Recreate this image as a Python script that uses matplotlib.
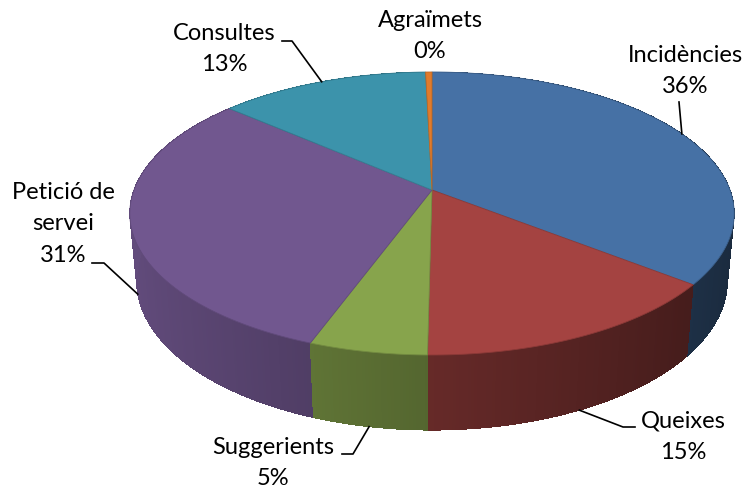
import numpy as np
import matplotlib.pyplot as plt
from matplotlib.patches import Polygon
from matplotlib.colors import to_rgb

labels = ['Incidències', 'Queixes', 'Suggerients', 'Petició de\nservei', 'Consultes', 'Agraïmets']
values = [35.6, 14.6, 5.4, 30.8, 13.2, 0.4]
colors = ['#4671a5', '#a44341', '#87a44c', '#71578f', '#3c93ab', '#e07b2c']

# label centres (px) and the bend points of each leader line
label_pos = [(685, 71), (683, 437), (273, 463), (63, 224), (224, 49), (430, 36)]
leader_pts = [[(679, 102)], [(623, 427), (635, 427)], [(353, 454), (342, 454)],
              [(104, 263), (92, 263)], [(292, 41), (282, 41)], []]

# perspective of the tilted disc
CX, CY = 432, 190
SCALE = 298
TILT = np.radians(27.5)
DIST = 5.34
HEIGHT = 0.257


def project(theta, r=1.0, h=0.0):
    x = r * np.sin(theta)
    z = r * np.cos(theta)
    v = z * np.sin(TILT) + h * np.cos(TILT)
    w = z * np.cos(TILT) - h * np.sin(TILT)
    s = 1.0 / (1.0 + w / DIST)
    return CX + SCALE * x * s, CY - SCALE * v * s


def shade(color, theta):
    # lighter on the left, darker towards the right side
    f = 0.62 - 0.25 * np.sin(theta)
    return tuple(np.clip(np.array(to_rgb(color)) * f, 0, 1))


plt.rcParams['font.family'] = ['Lato', 'DejaVu Sans']
fig = plt.figure(figsize=(7.49, 4.91), dpi=100)
ax = fig.add_axes([0, 0, 1, 1])
ax.set_xlim(0, 749)
ax.set_ylim(491, 0)
ax.axis('off')

total = sum(values)
bounds = np.concatenate([[0], np.cumsum(values)]) / total * 2 * np.pi

# outer wall: one smooth outline per slice, shaded strips on top of it
walls = []
for i, col in enumerate(colors):
    a0, a1 = bounds[i], bounds[i + 1]
    n = max(2, int(np.degrees(a1 - a0) * 2))
    t = np.linspace(a0, a1, n + 1)
    outline = [project(a) for a in t] + [project(a, h=-HEIGHT) for a in t[::-1]]
    strips = []
    for j in range(n):
        ta, tb = t[j], t[j + 1]
        pts = [project(ta), project(tb), project(tb, h=-HEIGHT), project(ta, h=-HEIGHT)]
        strips.append((pts, shade(col, (ta + tb) / 2)))
    walls.append((np.cos((a0 + a1) / 2), outline, shade(col, (a0 + a1) / 2), strips))

walls.sort(key=lambda w: -w[0])
for _, outline, c, strips in walls:
    ax.add_patch(Polygon(outline, closed=True, facecolor=c, edgecolor='none'))
    for pts, sc in strips:
        ax.add_patch(Polygon(pts, closed=True, facecolor=sc, edgecolor='none',
                             lw=0, antialiased=False))

# top face
for i, col in enumerate(colors):
    a0, a1 = bounds[i], bounds[i + 1]
    t = np.linspace(a0, a1, max(3, int(np.degrees(a1 - a0) * 2)))
    pts = [project(0, r=0)] + [project(a) for a in t]
    edge = tuple(np.array(to_rgb(col)) * 0.85)
    ax.add_patch(Polygon(pts, closed=True, facecolor=col, edgecolor=edge, lw=0.6))

# labels with leader lines
for i, lab in enumerate(labels):
    pct = values[i] / total * 100
    ax.text(label_pos[i][0], label_pos[i][1], f'{lab}\n{pct:.0f}%', ha='center', va='center',
            fontsize=17, linespacing=1.62, color='black')
    if leader_pts[i]:
        mid = (bounds[i] + bounds[i + 1]) / 2
        h = -HEIGHT if np.cos(mid) < 0 else 0.0
        anchor = project(mid, h=h)
        xs = [anchor[0]] + [p[0] for p in leader_pts[i]]
        ys = [anchor[1]] + [p[1] for p in leader_pts[i]]
        ax.plot(xs, ys, color='black', lw=1.2)

fig.savefig('out.png', dpi=100)
